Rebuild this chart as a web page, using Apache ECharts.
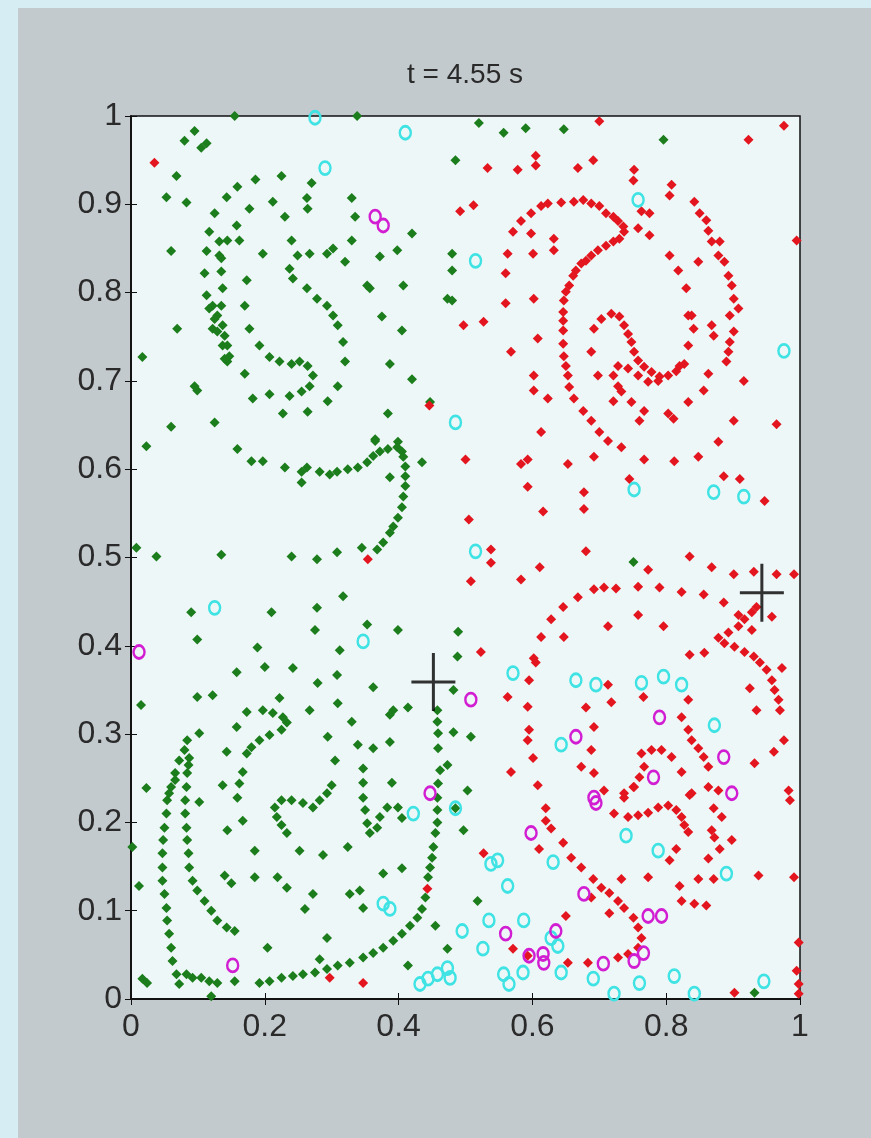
<!DOCTYPE html>
<html>
<head>
<meta charset="utf-8">
<script src="https://cdn.jsdelivr.net/npm/echarts@6/dist/echarts.min.js"></script>
<style>
html,body{margin:0;padding:0;background:#d6eef3;width:871px;height:1138px;overflow:hidden;}
#panel{position:absolute;left:18px;top:8px;width:853px;height:1130px;background:#c3cacd;}
#chart{position:absolute;left:0;top:0;width:871px;height:1138px;}
</style>
</head>
<body>
<div id="panel"></div>
<div id="chart"></div>
<script>
const titleText = 't = 4.55 s';
const xTicks = [0, 0.2, 0.4, 0.6, 0.8, 1];
const yTicks = [0, 0.1, 0.2, 0.3, 0.4, 0.5, 0.6, 0.7, 0.8, 0.9, 1];

const green = [
[0.155,1.0],[0.338,1.0],[0.095,0.983],[0.080,0.972],[0.105,0.964],[0.113,0.969],[0.068,0.932],[0.053,0.908],[0.083,0.902],[0.060,0.847],[0.069,0.759],[0.017,0.727],[0.095,0.694],[0.099,0.689],[0.060,0.648],[0.125,0.653],[0.023,0.626],
[0.159,0.920],[0.186,0.928],[0.225,0.932],[0.270,0.924],[0.143,0.908],[0.125,0.890],[0.117,0.869],[0.113,0.847],[0.110,0.822],[0.113,0.797],[0.117,0.782],[0.122,0.759],
[0.132,0.842],[0.135,0.824],[0.137,0.805],[0.135,0.785],[0.129,0.774],[0.137,0.763],[0.140,0.751],[0.144,0.740],[0.147,0.728],[0.144,0.722],[0.122,0.785],[0.125,0.770],[0.129,0.756],[0.137,0.740],[0.140,0.725],[0.135,0.839],[0.132,0.858],
[0.177,0.895],[0.158,0.876],[0.144,0.859],[0.162,0.859],[0.173,0.814],[0.170,0.785],[0.177,0.759],[0.192,0.740],[0.207,0.727],[0.222,0.722],[0.240,0.719],[0.252,0.722],[0.264,0.717],[0.272,0.706],[0.267,0.694],[0.255,0.688],
[0.249,0.842],[0.237,0.827],[0.242,0.816],[0.263,0.805],[0.278,0.793],[0.293,0.785],[0.302,0.774],[0.309,0.763],[0.317,0.744],[0.320,0.722],[0.309,0.694],[0.294,0.677],[0.264,0.665],[0.227,0.663],[0.207,0.685],[0.182,0.680],[0.170,0.708],[0.237,0.683],
[0.267,0.844],[0.293,0.844],[0.302,0.850],[0.197,0.844],[0.230,0.886],[0.240,0.859],[0.212,0.903],[0.263,0.907],[0.264,0.895],
[0.330,0.907],[0.335,0.886],[0.330,0.859],[0.320,0.835],[0.353,0.808],[0.357,0.805],[0.375,0.773],[0.405,0.757],[0.387,0.719],[0.420,0.702],[0.384,0.663],[0.407,0.808],[0.398,0.848],[0.420,0.867],[0.372,0.841],[0.473,0.793],[0.365,0.634],[0.399,0.631],
[0.520,0.992],[0.557,0.981],[0.590,0.986],[0.647,0.985],[0.796,0.973],[0.485,0.950],[0.480,0.844],[0.480,0.825],[0.480,0.791],[0.447,0.676],
[0.159,0.623],[0.180,0.609],[0.197,0.609],[0.230,0.602],[0.255,0.597],[0.263,0.602],[0.255,0.585],[0.282,0.597],[0.297,0.594],[0.308,0.597],[0.324,0.600],[0.339,0.602],[0.353,0.608],[0.362,0.615],[0.372,0.620],[0.384,0.623],[0.398,0.625],[0.405,0.620],[0.407,0.614],[0.365,0.632],[0.410,0.603],[0.410,0.592],[0.410,0.581],[0.407,0.569],[0.405,0.557],[0.399,0.545],[0.392,0.535],[0.387,0.528],[0.377,0.517],[0.368,0.509],[0.387,0.591],[0.435,0.608],[0.345,0.511],[0.308,0.506],[0.278,0.498],[0.240,0.501],[0.135,0.503],[0.038,0.501],[0.008,0.511],
[0.317,0.456],[0.278,0.443],[0.210,0.438],[0.090,0.438],[0.275,0.418],[0.353,0.424],[0.399,0.418],[0.489,0.416],[0.099,0.407],[0.189,0.398],[0.312,0.395],[0.488,0.388],[0.200,0.376],[0.242,0.375],[0.158,0.370],[0.308,0.367],[0.279,0.358],[0.362,0.353],[0.099,0.342],[0.122,0.344],[0.015,0.333],[0.222,0.341],[0.309,0.335],[0.267,0.327],[0.392,0.327],[0.387,0.322],[0.414,0.330],[0.482,0.350],[0.458,0.327],[0.330,0.314],[0.294,0.297],[0.339,0.288],[0.362,0.284],[0.387,0.291],[0.482,0.302],[0.508,0.297],[0.305,0.270],
[0.173,0.325],[0.197,0.327],[0.212,0.324],[0.227,0.319],[0.233,0.313],[0.225,0.305],[0.207,0.299],[0.192,0.293],[0.180,0.285],[0.173,0.278],[0.158,0.308],[0.102,0.301],[0.143,0.280],[0.084,0.293],[0.080,0.282],[0.072,0.270],
[0.066,0.256],[0.060,0.240],[0.054,0.225],[0.053,0.210],[0.050,0.194],[0.048,0.180],[0.047,0.165],[0.047,0.149],[0.047,0.134],[0.050,0.119],[0.053,0.103],[0.054,0.089],[0.057,0.074],[0.060,0.058],[0.062,0.043],[0.068,0.028],[0.072,0.017],[0.066,0.248],[0.057,0.233],
[0.087,0.273],[0.086,0.265],[0.084,0.256],[0.083,0.240],[0.081,0.225],[0.081,0.210],[0.083,0.194],[0.084,0.180],[0.086,0.165],[0.087,0.149],[0.092,0.134],[0.099,0.123],[0.110,0.111],[0.120,0.100],[0.129,0.089],[0.143,0.081],[0.155,0.077],
[0.083,0.028],[0.092,0.024],[0.105,0.024],[0.117,0.020],[0.129,0.018],[0.155,0.020],[0.017,0.023],[0.024,0.018],[0.012,0.128],[0.023,0.239],[0.002,0.172],[0.120,0.003],
[0.192,0.018],[0.207,0.020],[0.225,0.024],[0.242,0.026],[0.257,0.028],[0.275,0.030],[0.293,0.034],[0.309,0.038],[0.327,0.041],[0.347,0.047],[0.362,0.052],[0.377,0.058],[0.392,0.066],[0.405,0.074],[0.417,0.083],[0.428,0.092],[0.435,0.102],[0.440,0.115],
[0.444,0.138],[0.447,0.149],[0.450,0.160],[0.452,0.172],[0.455,0.188],[0.458,0.200],[0.458,0.214],[0.458,0.228],[0.459,0.244],[0.462,0.259],[0.459,0.284],[0.459,0.301],[0.458,0.314],
[0.473,0.265],[0.503,0.236],[0.497,0.191],[0.518,0.111],[0.473,0.057],[0.414,0.038],[0.455,0.083],[0.293,0.069],[0.282,0.045],[0.204,0.058],[0.260,0.102],[0.272,0.119],[0.327,0.119],[0.342,0.123],[0.347,0.103],[0.377,0.142],[0.405,0.148],[0.324,0.172],[0.287,0.163],[0.252,0.168],[0.233,0.126],[0.219,0.138],[0.185,0.138],[0.185,0.168],[0.140,0.140],[0.150,0.131],[0.144,0.191],[0.167,0.202],[0.162,0.244],[0.159,0.228],[0.167,0.257],[0.102,0.223],[0.137,0.242],
[0.215,0.217],[0.225,0.225],[0.240,0.225],[0.257,0.222],[0.272,0.217],[0.282,0.225],[0.293,0.233],[0.300,0.242],[0.218,0.206],[0.225,0.197],[0.233,0.188],
[0.347,0.261],[0.347,0.245],[0.347,0.228],[0.350,0.214],[0.353,0.199],[0.357,0.188],[0.368,0.194],[0.372,0.206],[0.383,0.217],[0.399,0.217],[0.390,0.245],[0.405,0.205],[0.485,0.216],
[0.932,0.007],[0.751,0.495]
];

const red = [
[0.035,0.947],[0.446,0.672],[0.354,0.498],[0.505,0.543],[0.508,0.473],[0.443,0.125],[0.297,0.024],[0.347,0.018],
[0.700,0.994],[0.976,0.989],[0.923,0.973],[0.533,0.941],[0.578,0.939],[0.605,0.955],[0.605,0.944],[0.668,0.941],[0.691,0.950],[0.752,0.939],[0.751,0.927],[0.808,0.922],[0.805,0.910],[0.492,0.892],[0.512,0.899],[0.995,0.859],
[0.842,0.903],[0.850,0.890],[0.860,0.882],[0.863,0.870],[0.868,0.858],[0.880,0.858],[0.878,0.842],[0.887,0.835],[0.893,0.819],[0.898,0.808],[0.901,0.793],[0.908,0.782],[0.895,0.774],[0.901,0.756],[0.895,0.744],[0.893,0.733],[0.890,0.722],[0.916,0.700],[0.901,0.655],[0.965,0.651],[0.878,0.631],[0.886,0.592],[0.910,0.589],
[0.805,0.842],[0.818,0.825],[0.830,0.805],[0.838,0.774],[0.841,0.759],[0.833,0.740],[0.820,0.717],[0.868,0.763],[0.871,0.751],[0.863,0.708],[0.856,0.689],[0.833,0.676],[0.803,0.663],[0.811,0.657],[0.767,0.666],[0.760,0.655],[0.748,0.676],[0.721,0.677],[0.698,0.706],[0.688,0.733],[0.692,0.759],[0.833,0.774],[0.848,0.835],
[0.703,0.770],[0.718,0.776],[0.730,0.773],[0.737,0.763],[0.743,0.753],[0.748,0.744],[0.752,0.733],[0.758,0.723],[0.767,0.716],[0.778,0.710],[0.790,0.705],[0.803,0.706],[0.815,0.711],[0.827,0.719],[0.728,0.717],[0.721,0.706],[0.728,0.694],[0.733,0.688],[0.743,0.714],[0.758,0.706],[0.773,0.699],[0.788,0.700],
[0.583,0.881],[0.598,0.890],[0.613,0.898],[0.623,0.901],[0.643,0.902],[0.662,0.903],[0.676,0.905],[0.688,0.901],[0.700,0.898],[0.710,0.890],[0.721,0.886],[0.728,0.881],[0.736,0.875],[0.737,0.869],[0.730,0.861],[0.721,0.858],[0.710,0.853],[0.698,0.848],[0.688,0.842],[0.680,0.836],[0.673,0.833],[0.665,0.825],[0.661,0.819],[0.655,0.808],[0.650,0.801],[0.647,0.791],[0.646,0.778],[0.646,0.768],[0.646,0.757],[0.646,0.742],[0.647,0.728],[0.650,0.717],[0.653,0.706],[0.655,0.693],[0.662,0.680],[0.676,0.666],[0.688,0.655],[0.700,0.642],[0.713,0.632],[0.733,0.625],[0.767,0.611],[0.812,0.609],[0.848,0.614],
[0.763,0.892],[0.775,0.890],[0.758,0.873],[0.775,0.865],
[0.571,0.869],[0.563,0.844],[0.560,0.822],[0.560,0.788],[0.568,0.733],[0.602,0.793],[0.608,0.748],[0.602,0.706],[0.602,0.689],[0.623,0.680],[0.598,0.867],[0.601,0.844],[0.632,0.861],[0.632,0.848],[0.497,0.763],[0.527,0.767],[0.613,0.642],[0.583,0.606],[0.593,0.611],[0.500,0.611],[0.593,0.580],[0.653,0.606],[0.692,0.614],[0.677,0.574],[0.745,0.589],
[0.616,0.552],[0.677,0.555],[0.538,0.509],[0.538,0.494],[0.680,0.507],[0.583,0.475],[0.611,0.489],[0.835,0.501],[0.947,0.564],
[0.773,0.486],[0.868,0.489],[0.901,0.481],[0.931,0.484],[0.965,0.481],[0.991,0.481],[0.692,0.464],[0.707,0.466],[0.725,0.465],[0.758,0.467],[0.790,0.466],[0.823,0.461],[0.856,0.458],[0.886,0.449],[0.908,0.435],[0.928,0.418],[0.958,0.433],[0.668,0.455],[0.646,0.444],[0.628,0.430],[0.613,0.410],[0.647,0.410],[0.713,0.422],[0.758,0.435],[0.796,0.422],[0.602,0.386],[0.605,0.381],[0.595,0.361],[0.593,0.331],[0.595,0.305],[0.593,0.293],[0.601,0.273],[0.568,0.257],[0.608,0.242],[0.523,0.393],[0.563,0.342],
[0.878,0.409],[0.893,0.415],[0.908,0.422],[0.917,0.430],[0.928,0.438],[0.935,0.444],[0.887,0.403],[0.902,0.399],[0.917,0.393],[0.931,0.388],[0.940,0.381],[0.950,0.373],[0.958,0.361],[0.962,0.350],[0.968,0.339],[0.970,0.327],[0.973,0.375],[0.925,0.352],[0.935,0.327],[0.976,0.293],[0.961,0.280],[0.932,0.267],[0.835,0.390],[0.857,0.392],
[0.713,0.356],[0.718,0.336],[0.766,0.342],[0.833,0.339],[0.823,0.319],[0.680,0.330],[0.692,0.308],[0.688,0.282],[0.673,0.263],[0.692,0.256],[0.833,0.305],[0.838,0.293],[0.848,0.284],[0.856,0.274],[0.863,0.263],[0.823,0.257],[0.763,0.278],[0.778,0.282],[0.793,0.282],[0.808,0.274],[0.767,0.263],[0.760,0.251],[0.752,0.240],[0.737,0.233],[0.707,0.236],[0.863,0.240],[0.838,0.233],[0.983,0.236],
[0.620,0.216],[0.620,0.202],[0.628,0.193],[0.610,0.170],[0.646,0.177],[0.658,0.160],[0.673,0.149],[0.691,0.136],[0.703,0.126],[0.715,0.120],[0.728,0.111],[0.737,0.103],[0.751,0.092],[0.758,0.081],[0.763,0.069],[0.758,0.058],[0.743,0.051],[0.728,0.047],[0.683,0.041],[0.653,0.041],[0.571,0.057],[0.650,0.094],[0.715,0.097],[0.733,0.136],[0.773,0.138],[0.820,0.128],[0.848,0.136],[0.871,0.136],[0.823,0.111],[0.842,0.108],[0.860,0.106],[0.688,0.115],
[0.737,0.228],[0.751,0.240],[0.722,0.210],[0.743,0.206],[0.758,0.208],[0.773,0.211],[0.788,0.217],[0.803,0.219],[0.815,0.214],[0.823,0.206],[0.827,0.197],[0.833,0.189],[0.815,0.170],[0.805,0.157],[0.835,0.231],[0.878,0.236],[0.871,0.216],[0.883,0.206],[0.868,0.191],[0.872,0.183],[0.898,0.180],[0.880,0.170],[0.863,0.159],[0.938,0.140],[0.991,0.138],[0.985,0.225],
[0.998,0.064],[0.995,0.032],[0.998,0.017],[0.998,0.006],[0.902,0.007],[0.527,0.165],[0.593,0.049]
];

const cyan = [
[0.275,0.998],[0.410,0.981],[0.290,0.941],[0.758,0.905],[0.515,0.836],[0.485,0.653],[0.976,0.734],[0.752,0.577],[0.871,0.574],[0.916,0.569],[0.125,0.443],[0.347,0.405],[0.515,0.507],
[0.571,0.369],[0.665,0.361],[0.695,0.356],[0.763,0.358],[0.796,0.365],[0.823,0.356],[0.872,0.310],[0.643,0.288],[0.485,0.216],[0.740,0.185],[0.788,0.168],[0.631,0.155],[0.538,0.153],[0.548,0.157],[0.563,0.128],[0.890,0.142],
[0.495,0.077],[0.535,0.089],[0.587,0.089],[0.526,0.057],[0.557,0.028],[0.565,0.017],[0.477,0.024],[0.586,0.030],[0.638,0.060],[0.643,0.030],[0.691,0.023],[0.722,0.006],[0.760,0.018],[0.812,0.026],[0.842,0.006],[0.946,0.020],[0.628,0.069],
[0.377,0.108],[0.387,0.102],[0.422,0.210],[0.432,0.017],[0.444,0.023],[0.458,0.028],[0.473,0.035]
];

const magenta = [
[0.365,0.886],[0.377,0.876],[0.012,0.393],[0.508,0.339],[0.447,0.233],[0.152,0.038],
[0.790,0.319],[0.665,0.297],[0.886,0.274],[0.781,0.251],[0.898,0.233],[0.692,0.228],[0.695,0.222],[0.598,0.188],[0.677,0.119],[0.773,0.094],[0.793,0.094],[0.560,0.074],[0.635,0.077],[0.595,0.049],[0.616,0.051],[0.617,0.041],[0.706,0.040],[0.766,0.052],[0.752,0.043]
];

const crosses = [[0.452,0.359],[0.943,0.460]];

const chart = echarts.init(document.getElementById('chart'));
const FONT = "'Liberation Sans',Arial,sans-serif";
const labelStyle = {fontFamily: FONT, fontSize: 32, color: '#2a2a2a'};

function dot(data, color) {
  return {type: 'scatter', data: data, symbol: 'diamond', symbolSize: 10,
    itemStyle: {color: color, opacity: 1}, silent: true, animation: false};
}
function ring(data, color) {
  return {type: 'scatter', data: data, symbol: 'circle', symbolSize: [11, 13],
    itemStyle: {color: 'rgba(0,0,0,0)', borderColor: color, borderWidth: 2.6, opacity: 1}, silent: true, animation: false};
}

chart.setOption({
  backgroundColor: 'transparent',
  animation: false,
  title: {text: titleText, left: 460, top: 56, textAlign: 'center',
    textStyle: {fontFamily: FONT, fontSize: 28, fontWeight: 'normal', color: '#2a2a2a'}},
  grid: {left: 131, right: 71, top: 116, bottom: 139, show: true,
    backgroundColor: '#eef7f8', borderColor: '#111', borderWidth: 1.5},
  xAxis: [
    {type: 'value', min: 0, max: 1, interval: 0.2, position: 'bottom',
      axisLine: {show: true, lineStyle: {color: '#111', width: 1.5}},
      axisTick: {show: true, inside: true, length: 6, lineStyle: {color: '#111'}},
      splitLine: {show: false},
      axisLabel: Object.assign({margin: 12, formatter: v => String(+v.toFixed(1))}, labelStyle)},
    {type: 'value', min: 0, max: 1, interval: 0.2, position: 'top',
      axisLine: {show: true, lineStyle: {color: '#111', width: 1.5}},
      axisTick: {show: true, inside: true, length: 6, lineStyle: {color: '#111'}},
      splitLine: {show: false}, axisLabel: {show: false}}
  ],
  yAxis: [
    {type: 'value', min: 0, max: 1, interval: 0.1, position: 'left',
      axisLine: {show: true, lineStyle: {color: '#111', width: 1.5}},
      axisTick: {show: true, inside: true, length: 6, lineStyle: {color: '#111'}},
      splitLine: {show: false},
      axisLabel: Object.assign({margin: 9, formatter: v => String(+v.toFixed(1))}, labelStyle)},
    {type: 'value', min: 0, max: 1, interval: 0.1, position: 'right',
      axisLine: {show: true, lineStyle: {color: '#111', width: 1.5}},
      axisTick: {show: true, inside: true, length: 6, lineStyle: {color: '#111'}},
      splitLine: {show: false}, axisLabel: {show: false}}
  ],
  series: [
    dot(green, '#1b7d1b'),
    dot(red, '#e3161f'),
    ring(cyan, '#3fe3e3'),
    ring(magenta, '#d21ed2'),
    {type: 'scatter', data: crosses, symbol: 'path://M20.5,0H23.5V58H20.5ZM0,27.5H44V30.5H0Z',
      symbolSize: [44, 58], itemStyle: {color: '#000'}, silent: true, animation: false}
  ]
});
</script>
</body>
</html>
